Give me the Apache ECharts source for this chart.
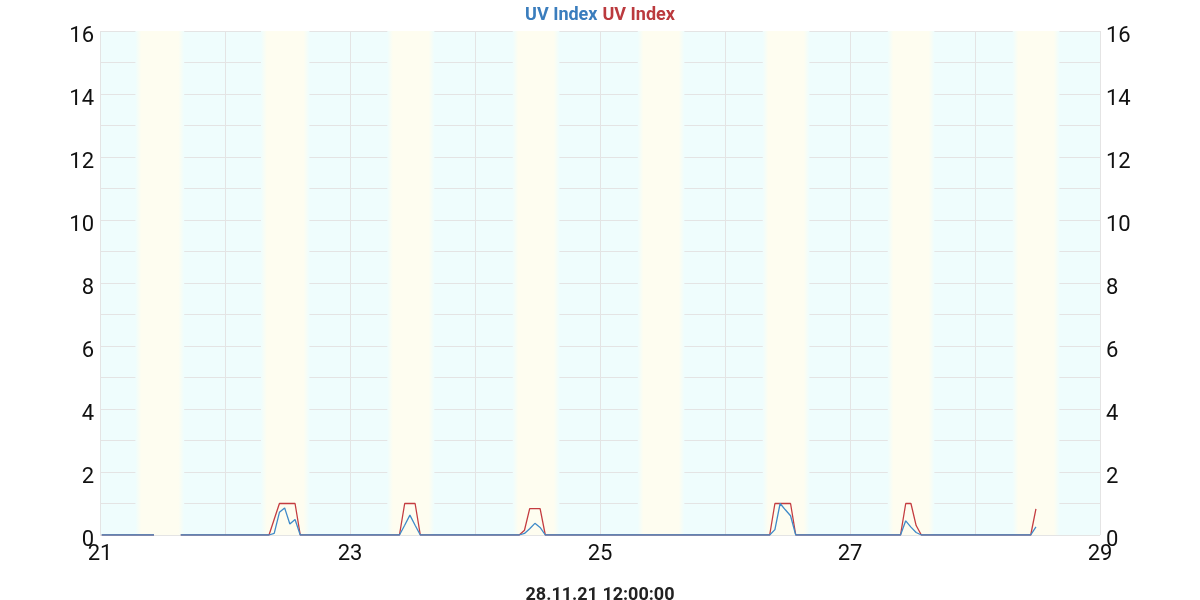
<!DOCTYPE html>
<html>
<head>
<meta charset="utf-8">
<script src="https://cdn.jsdelivr.net/npm/echarts@6/dist/echarts.min.js"></script>
<style>html,body{margin:0;padding:0;background:#fff}#c{width:1200px;height:600px}</style>
</head>
<body>
<div id="c"></div>
<script>
// ---- data ----
const times = [
  '2021-11-21 00:20','2021-11-21 10:22','2021-11-21 13:00','2021-11-21 15:30',
  '2021-11-22 08:27','2021-11-22 09:27','2021-11-22 10:27','2021-11-22 11:27','2021-11-22 12:27','2021-11-22 13:27','2021-11-22 14:27',
  '2021-11-23 09:30','2021-11-23 10:30','2021-11-23 11:30','2021-11-23 12:30','2021-11-23 13:30',
  '2021-11-24 08:30','2021-11-24 09:30','2021-11-24 10:30','2021-11-24 11:30','2021-11-24 12:30','2021-11-24 13:30',
  '2021-11-26 08:35','2021-11-26 09:35','2021-11-26 10:35','2021-11-26 11:35','2021-11-26 12:35','2021-11-26 13:35',
  '2021-11-27 09:42','2021-11-27 10:42','2021-11-27 11:42','2021-11-27 12:42','2021-11-27 13:42',
  '2021-11-28 10:42','2021-11-28 11:42'
];
const uvRed = [
  0,0,null,0,
  0,0.5,1,1,1,1,0,
  0,1,1,1,0,
  0,0.15,0.84,0.84,0.84,0,
  0,1,1,1,1,0,
  0,1,1,0.3,0,
  0,0.83
];
const uvBlue = [
  0,0,null,0,
  0,0.05,0.72,0.86,0.35,0.49,0,
  0,0.31,0.63,0.31,0,
  0,0.05,0.2,0.37,0.24,0,
  0,0.17,1.0,0.8,0.61,0,
  0,0.45,0.25,0.08,0,
  0,0.26
];
const days = ['2021-11-21','2021-11-22','2021-11-23','2021-11-24','2021-11-25','2021-11-26','2021-11-27','2021-11-28'];
const sunrise = ['06:48','06:55','07:10','07:15','07:15','07:15','07:15','07:15'];
const sunset  = ['16:10','16:12','16:12','16:12','16:12','16:12','16:12','16:12'];
const yTicks = [0,2,4,6,8,10,12,14,16];
const xTickDays = [21,23,25,27,29];
const titleBlue = 'UV Index', titleRed = 'UV Index';
const footer = '28.11.21 12:00:00';

// ---- build ----
function ts(s){ return Date.parse(s.replace(' ','T') + ':00Z'); }
const DAY = 86400000;
const xMin = ts('2021-11-21 00:00'), xMax = ts('2021-11-29 00:00');
const redData = times.map((t,i)=>[ts(t), uvRed[i]]);
const blueData = times.map((t,i)=>[ts(t), uvBlue[i]]);
const CY = '#effdfd', YE = '#fefdf0';
const bands = days.map((d,i)=>{
  const a = ts(d+' '+sunrise[i]), b = ts(d+' '+sunset[i]);
  return [{xAxis:a, itemStyle:{color:{type:'linear',x:0,y:0,x2:1,y2:0,colorStops:[
    {offset:0,color:CY},{offset:0.12,color:YE},{offset:0.88,color:YE},{offset:1,color:CY}]}}},{xAxis:b}];
});
const labelStyle = {fontFamily:'Roboto', fontSize:22, color:'#111'};
const yAxisBase = {
  type:'value', min:0, max:16, interval:1,
  axisLine:{show:false}, axisTick:{show:false},
  splitLine:{show:true, lineStyle:{color:'#e4e4e4', width:1}}
};
const yFmt = v=>yTicks.indexOf(v)>=0?'{a|'+v+'}':'';
const yRich = {a:{fontFamily:'Roboto', fontSize:22, color:'#111', padding:[10,0,0,0]}};
const chart = echarts.init(document.getElementById('c'), null, {renderer:'canvas'});
chart.setOption({
  animation:false,
  title:[{
    text:'{b|'+titleBlue+'} {r|'+titleRed+'}', left:'center', top:1,
    textStyle:{rich:{
      b:{color:'#3a7dbd', fontFamily:'Roboto', fontSize:18, fontWeight:'bold'},
      r:{color:'#bb3a3e', fontFamily:'Roboto', fontSize:18, fontWeight:'bold'}}}
  },{
    text:footer, left:'center', top:581,
    textStyle:{color:'#222', fontFamily:'Roboto', fontSize:18, fontWeight:'bold'}
  }],
  grid:{left:100, right:100, top:31, bottom:65, show:true, backgroundColor:CY, borderWidth:0},
  xAxis:{
    type:'value', min:xMin, max:xMax, interval:DAY,
    axisLine:{show:false}, axisTick:{show:false},
    splitLine:{show:true, lineStyle:{color:'#e4e4e4', width:1}},
    axisLabel:Object.assign({margin:8, showMinLabel:true, showMaxLabel:true, formatter:function(v){
      const dd = Math.round((v - xMin)/DAY) + 21;
      return xTickDays.indexOf(dd) >= 0 ? String(dd) : '';
    }}, labelStyle)
  },
  yAxis:[
    Object.assign({}, yAxisBase, {position:'left', axisLabel:Object.assign({margin:6, formatter:yFmt, rich:yRich}, labelStyle)}),
    Object.assign({}, yAxisBase, {position:'right', splitLine:{show:false}, axisLabel:Object.assign({margin:6, formatter:yFmt, rich:yRich}, labelStyle)})
  ],
  series:[
    {type:'line', name:'UV Index', data:redData, showSymbol:false, symbol:'none',
     lineStyle:{color:'#c43c40', width:1.3}, itemStyle:{color:'#c43c40'}, connectNulls:false,
     markArea:{silent:true, data:bands}, z:2},
    {type:'line', name:'UV Index', data:blueData, showSymbol:false, symbol:'none',
     lineStyle:{color:'#3f8ac8', width:1.3}, itemStyle:{color:'#3f8ac8'}, connectNulls:false, z:3}
  ]
});
</script>
</body>
</html>
